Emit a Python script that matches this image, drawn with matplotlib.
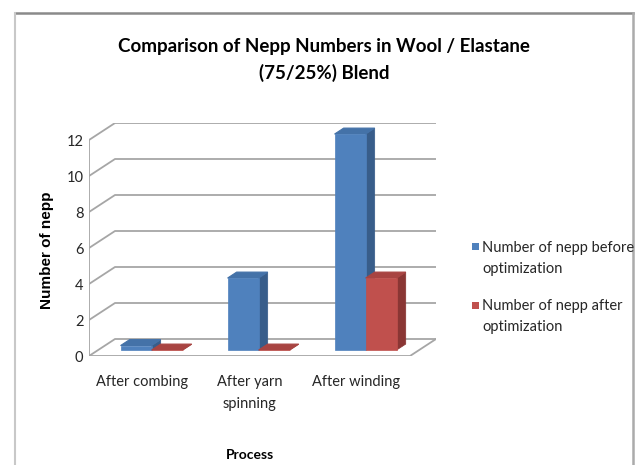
import matplotlib.pyplot as plt
from matplotlib.patches import Polygon, Rectangle
from matplotlib.lines import Line2D

categories = ["After combing", "After yarn\nspinning", "After winding"]
before = [0.25, 4, 12]
after = [0, 0, 4]
series_names = ["Number of nepp before\noptimization", "Number of nepp after\noptimization"]
yticks = [0, 2, 4, 6, 8, 10, 12]

# colours: front, top, side
blue = ("#4f81bd", "#4472a8", "#385d8a")
red = ("#c0504d", "#a84442", "#8a3634")
grid = "#a6a6a6"
body_font = ["Lato", "DejaVu Sans"]

W, H = 636, 465
fig = plt.figure(figsize=(W / 100, H / 100), dpi=100)
fig.patch.set_facecolor("white")

# plot area: front-left corner at (89, 356) px, 107 px per category, 18 px per unit
x0, y0, cat_px, unit_px = 89, 356, 107, 18
ymax = 12
depth_x = 26 / cat_px
depth_y = 17 / unit_px
ax = fig.add_axes([x0 / W, (H - y0) / H, (3 * cat_px + 26) / W, (ymax * unit_px + 17) / H])
ax.set_xlim(-0.5, 2.5 + depth_x)
ax.set_ylim(0, ymax + depth_y)
ax.set_facecolor("none")
for s in ax.spines.values():
    s.set_visible(False)

# walls and floor
for v in yticks:
    ax.plot([-0.5, -0.5 + depth_x, 2.5 + depth_x], [v, v + depth_y, v + depth_y],
            color=grid, lw=1.3, zorder=1)
ax.plot([-0.5, -0.5], [0, ymax], color=grid, lw=1.3, zorder=1)
ax.plot([-0.5, 2.5, 2.5 + depth_x], [0, 0, depth_y], color=grid, lw=1.3, zorder=1)

bar_w = 0.29
f0, fd = 0.35, 0.35


def bar3d(left, val, cols):
    front, top, side = cols
    dx0, dy0 = f0 * depth_x, f0 * depth_y
    ddx, ddy = fd * depth_x, fd * depth_y
    xl, xr = left + dx0, left + dx0 + bar_w
    yb, yt = dy0, dy0 + val
    ax.add_patch(Polygon([(xr, yb), (xr + ddx, yb + ddy), (xr + ddx, yt + ddy), (xr, yt)],
                         fc=side, ec=side, lw=0.5, zorder=3))
    ax.add_patch(Polygon([(xl, yt), (xr, yt), (xr + ddx, yt + ddy), (xl + ddx, yt + ddy)],
                         fc=top, ec=top, lw=0.8, zorder=3))
    ax.add_patch(Polygon([(xl, yb), (xr, yb), (xr, yt), (xl, yt)],
                         fc=front, ec=front, lw=0.5, zorder=3))


for i in range(len(categories)):
    bar3d(i - bar_w, before[i], blue)
    bar3d(i, after[i], red)

ax.set_yticks(yticks)
ax.set_yticklabels([str(v) for v in yticks], family=body_font, fontsize=10.5, color="#262626")
ax.tick_params(axis="y", length=0, pad=4)
ax.set_xticks(range(len(categories)))
ax.set_xticklabels(categories, family=body_font, fontsize=10.5, color="#262626")
for lbl in ax.get_xticklabels():
    lbl.set_linespacing(1.7)
ax.tick_params(axis="x", length=0, pad=14)

ax.text(1, (y0 - 455) / (ymax * unit_px + 17), "Process", transform=ax.get_xaxis_transform(),
        ha="center", va="center", family=body_font, fontsize=10, fontweight="bold")

fig.text(47 / W, 1 - 250 / H, "Number of nepp", rotation=90, ha="center", va="center",
         family="Liberation Sans", fontsize=11, fontweight="bold")

fig.text(324 / W, 1 - 60 / H, "Comparison of Nepp Numbers in Wool / Elastane\n(75/25%) Blend",
         ha="center", va="center", family=body_font, fontsize=13.5, fontweight="bold",
         linespacing=1.6)

# legend
for k, (name, cols) in enumerate(zip(series_names, [blue, red])):
    cy = 247 + 58 * k
    fig.add_artist(Rectangle((472 / W, 1 - (cy + 3.5) / H), 7 / W, 7 / H, fc=cols[0], ec="none",
                             transform=fig.transFigure))
    fig.text(482 / W, 1 - (cy + 11.5) / H, name, ha="left", va="center", family=body_font,
             fontsize=10.5, linespacing=1.6, color="#262626")

# chart border
fig.add_artist(Line2D([15 / W, 633 / W], [1 - 13 / H] * 2, color="#8a8a8a", lw=1.8,
                      transform=fig.transFigure))
fig.add_artist(Line2D([15 / W, 15 / W], [1 - 13 / H, 0], color="#c8c8c8", lw=1.5,
                      transform=fig.transFigure))
fig.add_artist(Line2D([633 / W, 633 / W], [1 - 13 / H, 0], color="#ababab", lw=1.8,
                      transform=fig.transFigure))

fig.savefig("out.png", dpi=100)
